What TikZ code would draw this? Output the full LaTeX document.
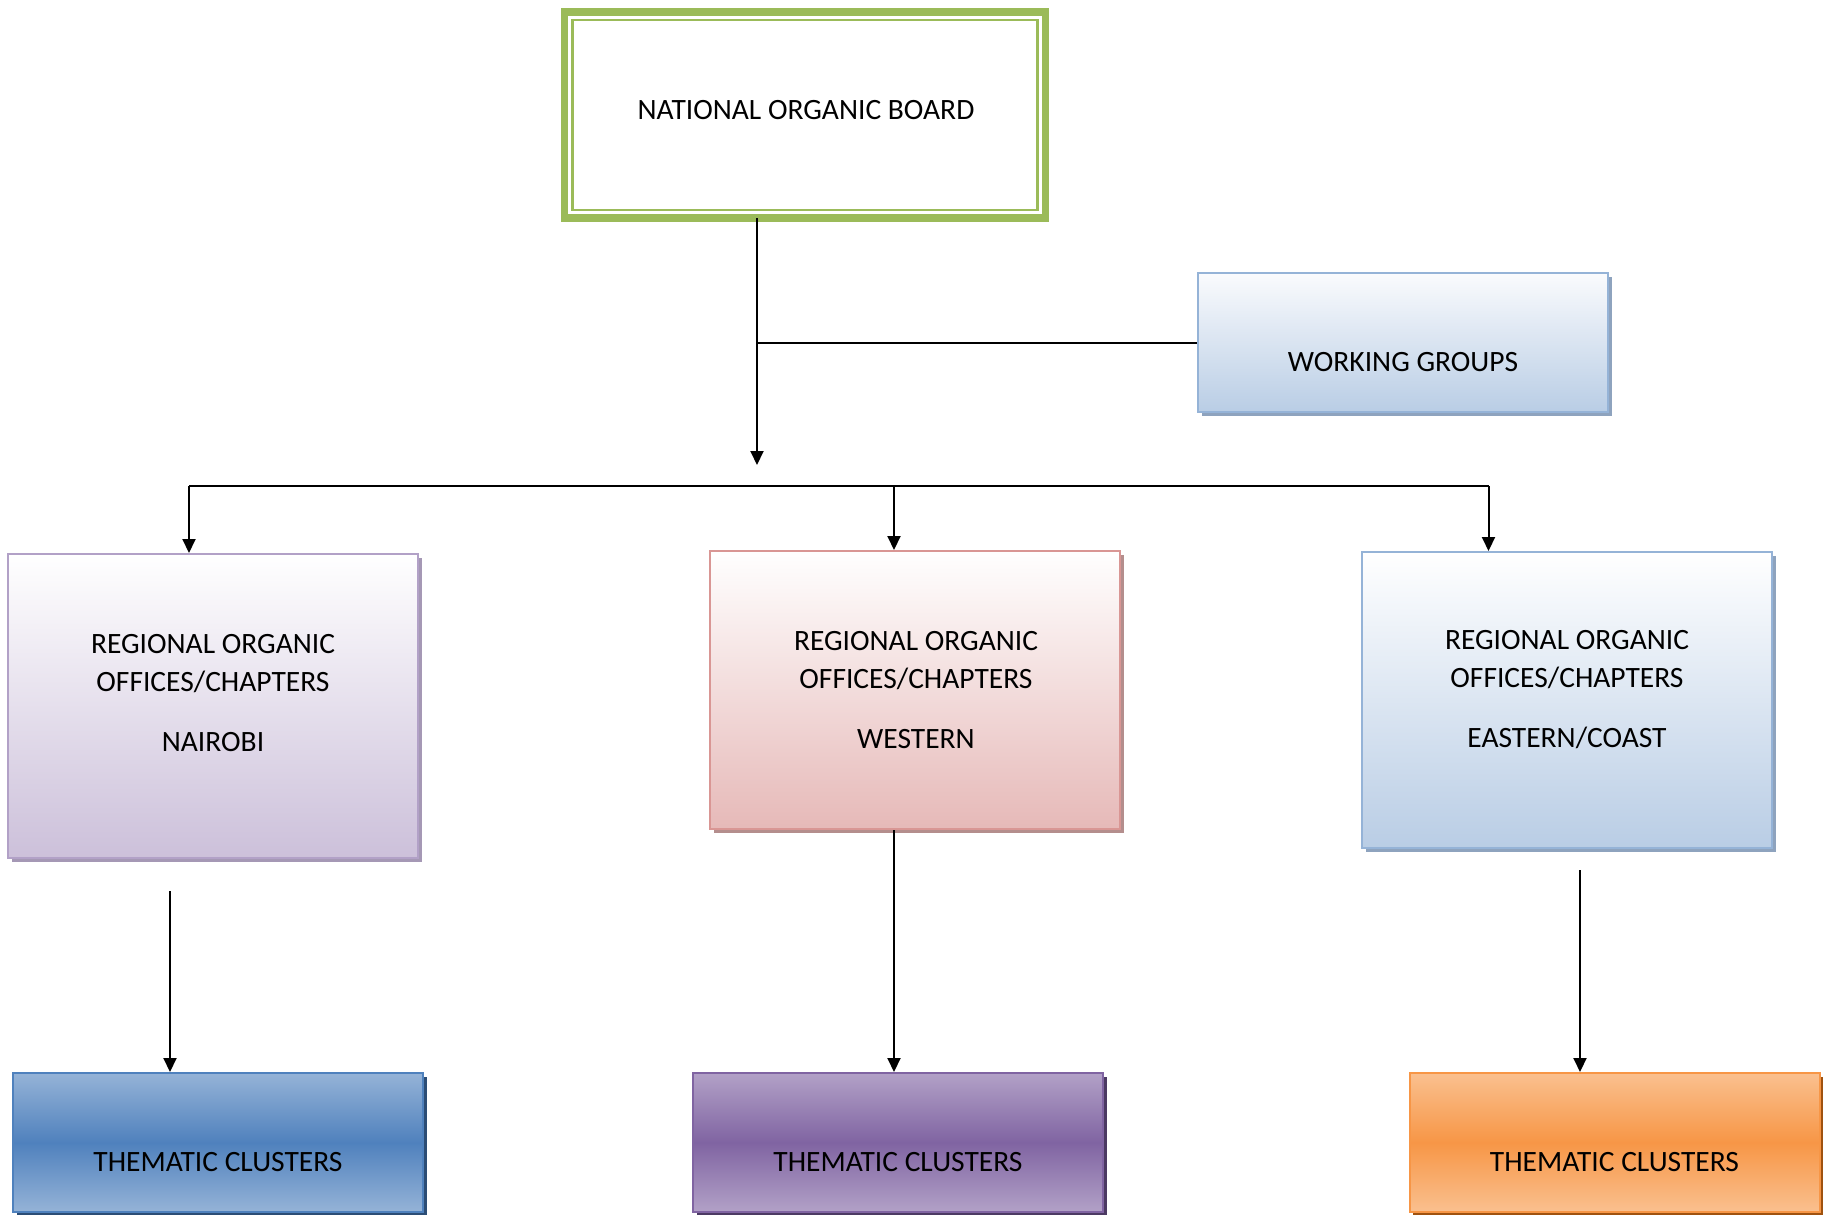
\documentclass[tikz,border=0pt]{standalone}
\usepackage{fontspec}
\setmainfont{Carlito}
\usetikzlibrary{arrows.meta,shadows,calc}
\definecolor{nobgreen}{HTML}{9BBB59}
\definecolor{wgtop}{HTML}{FAFBFD}
\definecolor{wgbot}{HTML}{B9CDE5}
\definecolor{wgline}{HTML}{95B3D7}
\definecolor{wgshadow}{HTML}{8EA3BE}
\definecolor{naibot}{HTML}{CCC0DA}
\definecolor{nailine}{HTML}{B2A1C7}
\definecolor{naishadow}{HTML}{A598B5}
\definecolor{wesbot}{HTML}{E6B9B8}
\definecolor{wesline}{HTML}{D99694}
\definecolor{wesshadow}{HTML}{B48E8D}
\definecolor{bluelight}{HTML}{95B3D7}
\definecolor{bluemid}{HTML}{4F81BD}
\definecolor{blueshadow}{HTML}{2C4D75}
\definecolor{purplelight}{HTML}{B2A1C7}
\definecolor{purplemid}{HTML}{8064A2}
\definecolor{purpleshadow}{HTML}{4C3A63}
\definecolor{orangelight}{HTML}{FAC08F}
\definecolor{orangemid}{HTML}{F79646}
\definecolor{orangeshadow}{HTML}{A0520F}
\begin{document}
\begin{tikzpicture}[x=1pt,y=-1pt,
  box/.style={rectangle, minimum width=410pt, inner sep=0pt, line width=2pt},
  shad/.style={drop shadow={shadow xshift=3.5pt, shadow yshift=-3.5pt, fill=#1, opacity=1}},
  regbox/.style={box, top color=white, bottom color=#1},
  thembox/.style={box, minimum height=139pt, top color=#1light, bottom color=#1light, middle color=#1mid, draw=#1mid, shad=#1shadow},
  txt/.style={align=center, inner sep=0pt, font=\fontsize{29.5}{38}\selectfont},
  conn/.style={line width=2pt},
  arr/.style={conn, -{Triangle[width=13pt,length=14pt]}}]
\useasboundingbox (0,0) rectangle (1832,1215);

% National organic board
\node[rectangle, draw=nobgreen, line width=7.4pt, fill=white, minimum width=481pt, minimum height=206pt, inner sep=0pt, outer sep=0pt] (nob) at (805,115) {};
\draw[nobgreen, line width=2.7pt] ($(nob.south west)+(8.3pt,8pt)$) rectangle ($(nob.north east)+(-8.3pt,-8pt)$);
\node[txt] (nobt) at (806,110) {NATIONAL ORGANIC BOARD};

% Working groups
\node[box, minimum height=139pt, top color=wgtop, bottom color=wgbot, draw=wgline, shad=wgshadow] (wg) at (1403,342.5) {};
\node[txt] (wgt) at (1403,362) {WORKING GROUPS};

% Regional boxes
\node[regbox=naibot, draw=nailine, minimum height=304pt, shad=naishadow] (nai) at (213,706) {};
\node[txt, anchor=north] (nait) at (213,634.5) {REGIONAL ORGANIC\\OFFICES/CHAPTERS\\[22pt]NAIROBI};

\node[regbox=wesbot, draw=wesline, minimum height=278pt, shad=wesshadow] (wes) at (915,690) {};
\node[txt, anchor=north] (west) at (916,631) {REGIONAL ORGANIC\\OFFICES/CHAPTERS\\[22pt]WESTERN};

\node[regbox=wgbot, draw=wgline, minimum height=296pt, shad=wgshadow] (eas) at (1567,700) {};
\node[txt, anchor=north] (east) at (1567,630.5) {REGIONAL ORGANIC\\OFFICES/CHAPTERS\\[22pt]EASTERN/COAST};

% Thematic clusters
\node[thembox=blue] (tc1) at (218,1142.5) {};
\node[txt] (tc1t) at (218,1162.5) {THEMATIC CLUSTERS};
\node[thembox=purple] (tc2) at (898,1142.5) {};
\node[txt] (tc2t) at (898,1162.5) {THEMATIC CLUSTERS};
\node[thembox=orange] (tc3) at (1614.5,1142.5) {};
\node[txt] (tc3t) at (1614.5,1162.5) {THEMATIC CLUSTERS};

% Connectors
\coordinate (j1) at (757,465);
\coordinate (b1) at (189,486);
\coordinate (b2) at (894,486);
\coordinate (b3) at (1488.5,486);
\coordinate (s1) at (170,891);
\coordinate (s3) at (1580,870);

\draw[arr] (nob.south -| j1) -- (j1);
\draw[conn] (j1 |- wg.west) -- (wg.west);
\draw[conn] (b1) -- (b3);
\draw[arr] (b1) -- (b1 |- nai.north);
\draw[arr] (b2) -- (b2 |- wes.north);
\draw[arr] (b3) -- (b3 |- eas.north);
\draw[arr] (s1) -- (s1 |- tc1.north);
\draw[arr] (wes.south -| b2) -- (b2 |- tc2.north);
\draw[arr] (s3) -- (s3 |- tc3.north);
\end{tikzpicture}
\end{document}
